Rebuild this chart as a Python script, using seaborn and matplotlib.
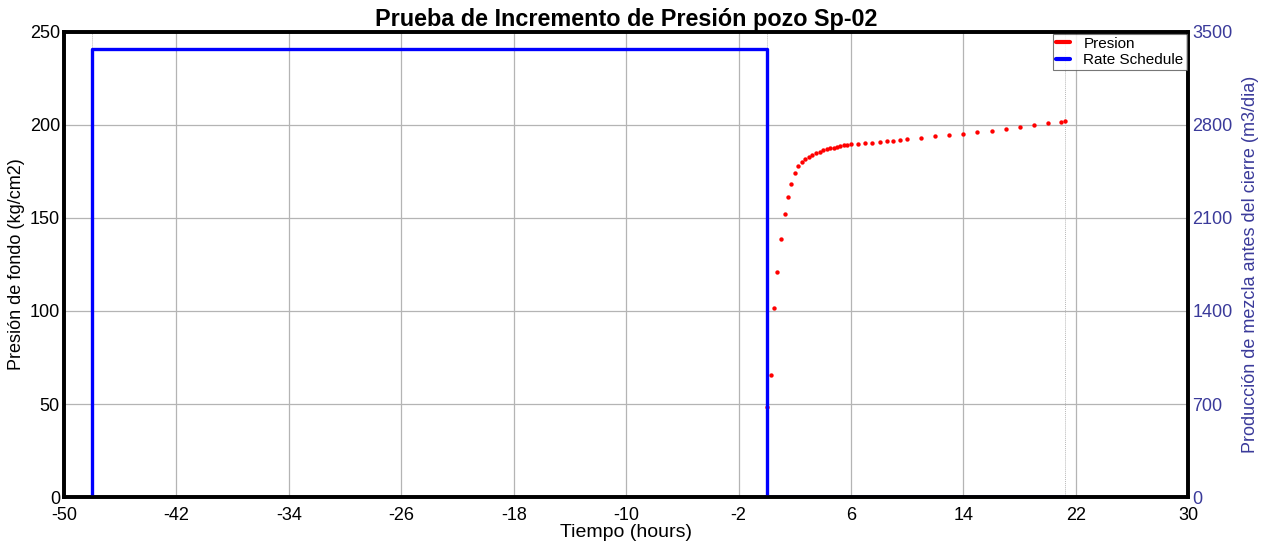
import matplotlib
matplotlib.use("Agg")
import matplotlib.pyplot as plt
from matplotlib.lines import Line2D
import numpy as np
import pandas as pd
import seaborn as sns

# Pressure build-up readings (time in hours after shut-in, pressure in kg/cm2)
tiempo = [0.02, 0.30, 0.51, 0.77, 1.01, 1.27, 1.51, 1.74, 2.01, 2.26, 2.50, 2.76,
          3.00, 3.26, 3.50, 3.76, 4.00, 4.26, 4.50, 4.76, 5.00, 5.25, 5.49, 5.75,
          6.01, 6.51, 7.01, 7.53, 8.03, 8.53, 9.02, 9.52, 10.02, 11.0, 12.0, 13.0,
          14.0, 15.0, 16.0, 17.0, 18.0, 19.0, 20.0, 20.98, 21.24]
presion = [48.5, 65.6, 101.4, 121.0, 138.5, 152.3, 161.1, 168.5, 174.0, 177.8,
           179.9, 181.7, 183.0, 184.0, 184.9, 185.6, 186.4, 186.9, 187.5, 187.8,
           188.3, 188.7, 189.1, 189.4, 189.6, 189.9, 190.2, 190.5, 190.9, 191.2,
           191.6, 191.9, 192.5, 193.0, 193.9, 194.8, 195.3, 196.1, 196.9, 198.0,
           199.1, 200.0, 200.9, 201.8, 202.0]

# Rate schedule: period start times (hours) and rates (m3/dia), last entry = end
periodo_inicio = [-48.0, 0.0, 21.25]
caudal = [3375.0, 0.0, 0.0]

x_ticks = [-50, -42, -34, -26, -18, -10, -2, 6, 14, 22, 30]
y_ticks = [0, 50, 100, 150, 200, 250]
y2_ticks = [0, 700, 1400, 2100, 2800, 3500]

# Build step outline of the schedule
sx, sy = [periodo_inicio[0]], [0.0]
for i in range(len(periodo_inicio) - 1):
    sx += [periodo_inicio[i], periodo_inicio[i + 1]]
    sy += [caudal[i], caudal[i]]
sx.append(periodo_inicio[-1]); sy.append(0.0)
df_rate = pd.DataFrame({"t": sx, "q": sy})
df_p = pd.DataFrame({"t": tiempo, "p": presion})

sns.set_theme(style="white")
plt.rcParams["font.family"] = ["Liberation Sans", "DejaVu Sans"]
plt.rcParams["axes.unicode_minus"] = False
plt.rcParams["text.color"] = "black"
plt.rcParams["axes.labelcolor"] = "black"

blue_lbl = "#3a3a9a"
fig = plt.figure(figsize=(12.61, 5.42), dpi=100)
ax = fig.add_axes([0.0508, 0.083, 0.8915, 0.858])

sns.scatterplot(data=df_p, x="t", y="p", ax=ax, color="#ff0000", s=10,
                linewidth=0, zorder=3, legend=False)

ax.set_xlim(-50, 30)
ax.set_ylim(0, 250)
ax.set_xticks(x_ticks)
ax.set_yticks(y_ticks)
ax.grid(True, color="#b4b4b4", linewidth=0.9)
for t in periodo_inicio:
    ax.axvline(t, color="#b8b8b8", linewidth=0.7, linestyle=(0, (1, 1)), zorder=1)
ax.tick_params(axis="both", length=0, labelsize=13, colors="black")
ax.tick_params(axis="x", pad=7)
ax.tick_params(axis="y", pad=3)
ax.set_xlabel("Tiempo (hours)", fontsize=14, labelpad=0, color="black")
ax.set_ylabel("Presión de fondo (kg/cm2)", fontsize=13, labelpad=3, color="black")
ax.set_title("Prueba de Incremento de Presión pozo Sp-02", fontsize=16.8,
             fontweight="bold", pad=4, color="black")

ax2 = ax.twinx()
sns.lineplot(data=df_rate, x="t", y="q", ax=ax2, color="#0000ff", linewidth=2.4,
             sort=False, estimator=None, legend=False)
ax2.set_ylim(0, 3500)
ax2.set_yticks(y2_ticks)
ax2.tick_params(axis="y", length=0, labelsize=13, colors=blue_lbl, pad=3)
ax2.set_ylabel("Producción de mezcla antes del cierre (m3/dia)", fontsize=13,
               color=blue_lbl, labelpad=7)
ax2.set_xlabel("")
ax2.grid(False)

for a in (ax, ax2):
    for s in a.spines.values():
        s.set_color("black")
        s.set_linewidth(2.6)

handles = [Line2D([0], [0], color="#ff0000", lw=3),
           Line2D([0], [0], color="#0000ff", lw=3)]
leg = ax2.legend(handles, ["Presion", "Rate Schedule"], loc="upper right",
                 fontsize=11, frameon=True, fancybox=False, handlelength=0.9,
                 handletextpad=0.9, borderpad=0.2, labelspacing=0.15,
                 borderaxespad=0.1)
leg.get_frame().set_edgecolor("#555555")
leg.get_frame().set_linewidth(0.8)

fig.savefig("out.png", dpi=100)
